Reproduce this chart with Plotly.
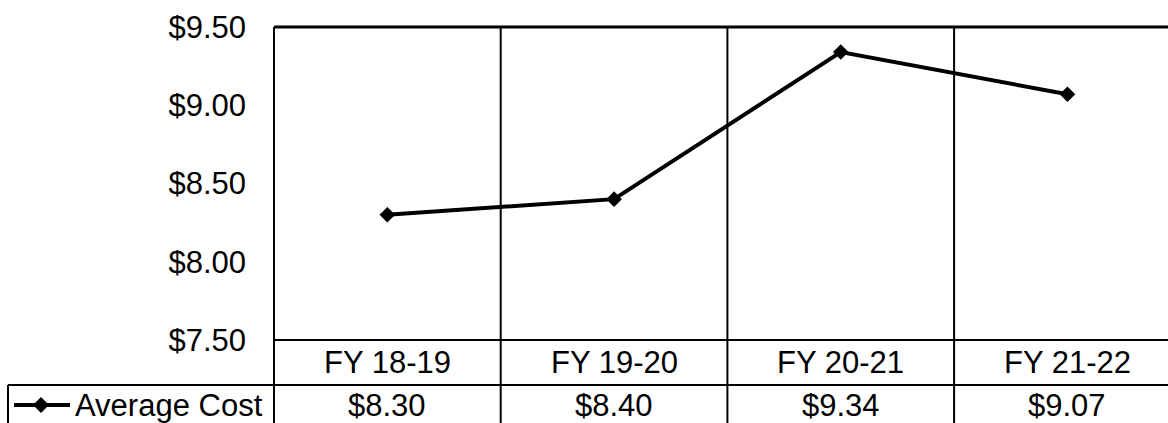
import plotly.graph_objects as go

categories = ["FY 18-19", "FY 19-20", "FY 20-21", "FY 21-22"]
avg_cost = [8.30, 8.40, 9.34, 9.07]
series_name = "Average Cost"
y_ticks = [7.50, 8.00, 8.50, 9.00, 9.50]

FONT = "Liberation Sans, Arial, sans-serif"
FS = 31
W, H = 1168, 423
L, T, B = 274, 27, 83
PW, PH = W - L, H - T - B
CATW = 226.7
xmin = -0.5
xmax = xmin + PW / CATW

def px(xp):
    return (xp - L) / PW

def py(yp):
    return (H - B - yp) / PH

fig = go.Figure()
fig.add_trace(go.Scatter(
    x=list(range(len(categories))), y=avg_cost, mode="lines+markers",
    line=dict(color="black", width=4),
    marker=dict(symbol="diamond", size=12, color="black"),
    name=series_name, showlegend=False, hoverinfo="skip"))

shapes = []
def hline(y, x0, x1, w=2):
    shapes.append(dict(type="line", xref="paper", yref="paper",
                       x0=px(x0), x1=px(x1), y0=py(y), y1=py(y),
                       line=dict(color="black", width=w)))
def vline(x, y0, y1, w=2):
    shapes.append(dict(type="line", xref="paper", yref="paper",
                       x0=px(x), x1=px(x), y0=py(y0), y1=py(y1),
                       line=dict(color="black", width=w)))

row1_top, row2_top, row_bot = H - B, H - B + 45, H + 10
hline(T, L, W + 5, 3)
hline(row1_top, L, W + 5)
hline(row2_top, 8, W + 5)
vline(L, T, row_bot)
vline(8, row2_top, row_bot)
for i in range(len(categories) - 1):
    xb = L + (i + 1) * CATW
    vline(xb, T, row_bot)

# legend key inside table
key_y = (row2_top + H) / 2 + 1
hline(key_y, 14, 70, 4)
d = 8
shapes.append(dict(type="path", xref="paper", yref="paper",
                   path=f"M {px(41 - d)} {py(key_y)} L {px(41)} {py(key_y - d)} L {px(41 + d)} {py(key_y)} L {px(41)} {py(key_y + d)} Z",
                   fillcolor="black", line=dict(color="black", width=0)))

annotations = []
r1c = (row1_top + row2_top) / 2
r2c = key_y
for i, (c, v) in enumerate(zip(categories, avg_cost)):
    annotations.append(dict(x=i, y=py(r1c), xref="x", yref="paper", text=c,
                            showarrow=False, xanchor="center", yanchor="middle",
                            font=dict(family=FONT, size=FS, color="black")))
    annotations.append(dict(x=i, y=py(r2c), xref="x", yref="paper", text=f"${v:.2f}",
                            showarrow=False, xanchor="center", yanchor="middle",
                            font=dict(family=FONT, size=FS, color="black")))
annotations.append(dict(x=px(73), y=py(r2c), xref="paper", yref="paper", text=series_name,
                        showarrow=False, xanchor="left", yanchor="middle",
                        font=dict(family=FONT, size=FS, color="black")))

fig.update_layout(
    width=W, height=H,
    margin=dict(l=L, r=0, t=T, b=B, pad=0),
    paper_bgcolor="white", plot_bgcolor="white",
    showlegend=False,
    font=dict(family=FONT, size=FS, color="black"),
    xaxis=dict(range=[xmin, xmax], showgrid=False, zeroline=False, showline=False,
               showticklabels=False, ticks="", fixedrange=True),
    yaxis=dict(range=[7.5, 9.5], tickvals=y_ticks,
               ticktext=[f"${t:.2f}" for t in y_ticks],
               showgrid=False, zeroline=False, showline=False, ticks="",
               ticklabelstandoff=27, tickfont=dict(family=FONT, size=FS, color="black"),
               fixedrange=True),
    shapes=shapes, annotations=annotations,
)

fig.write_html("out.html", config={"displayModeBar": False},
               post_script="document.body.style.margin='0';document.body.style.padding='0';document.body.style.overflow='hidden';")
